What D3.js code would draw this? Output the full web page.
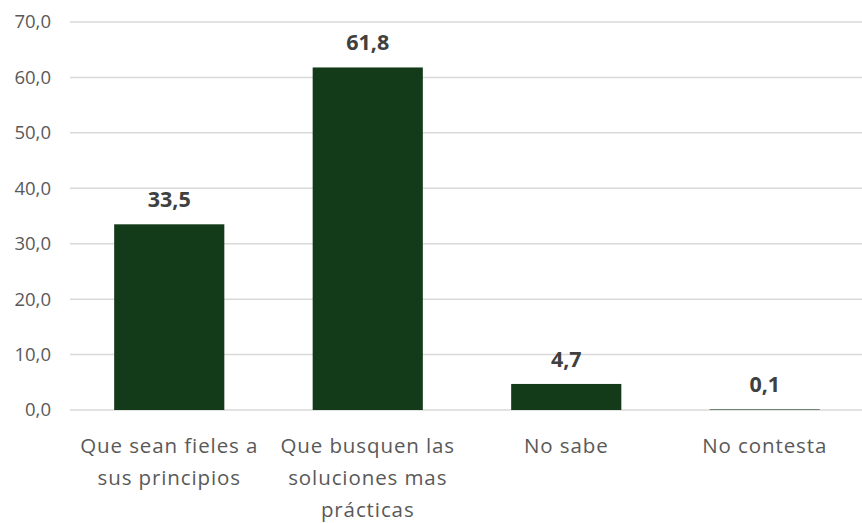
<!DOCTYPE html>
<html><head><meta charset="utf-8">
<script src="https://cdn.jsdelivr.net/npm/d3@7"></script>
<style>body{margin:0;background:#fff;} svg{display:block;}</style>
</head><body>
<svg id="chart" width="862" height="523"></svg>
<script>
const categories = ["Que sean fieles a sus principios", "Que busquen las soluciones mas prácticas", "No sabe", "No contesta"];
const categoryLines = [["Que sean fieles a", "sus principios"], ["Que busquen las", "soluciones mas", "prácticas"], ["No sabe"], ["No contesta"]];
const values = [33.5, 61.8, 4.7, 0.1];
const yTicks = [0, 10, 20, 30, 40, 50, 60, 70];

const svg = d3.select("#chart");
const fmt = v => d3.format(".1f")(v).replace(".", ",");
const font = "'Open Sans', 'Liberation Sans', sans-serif";

const x = d3.scaleBand().domain(categories).range([70, 864]).paddingInner(0.445).paddingOuter(0.2225);
const y = d3.scaleLinear().domain([0, 70]).range([410, 22]);

// gridlines
svg.append("g").selectAll("line").data(yTicks).join("line")
  .attr("x1", 70).attr("x2", 862)
  .attr("y1", d => y(d)).attr("y2", d => y(d))
  .attr("stroke", "#d9d9d9").attr("stroke-width", 1.5);

// y axis labels
const yAxis = d3.axisLeft(y).tickValues(yTicks).tickFormat(fmt).tickSize(0).tickPadding(0);
const yg = svg.append("g").attr("transform", "translate(51,0)").call(yAxis);
yg.select(".domain").remove();
yg.selectAll("text").attr("font-family", font).attr("font-size", 18.5).attr("fill", "#595959");

// bars
svg.append("g").selectAll("rect").data(values).join("rect")
  .attr("x", (d, i) => x(categories[i]))
  .attr("width", x.bandwidth())
  .attr("y", d => y(d))
  .attr("height", d => y(0) - y(d))
  .attr("fill", "#133a19");

// value labels
svg.append("g").selectAll("text").data(values).join("text")
  .attr("x", (d, i) => x(categories[i]) + x.bandwidth() / 2)
  .attr("y", d => y(d) - 17)
  .attr("text-anchor", "middle")
  .attr("font-family", font).attr("font-weight", "bold").attr("font-size", 21.5)
  .attr("fill", "#404040")
  .text(d => fmt(d));

// category labels
const cg = svg.append("g");
categoryLines.forEach((lines, i) => {
  const t = cg.append("text")
    .attr("x", x(categories[i]) + x.bandwidth() / 2)
    .attr("y", 453)
    .attr("text-anchor", "middle")
    .attr("font-family", font).attr("font-size", 20.5)
    .attr("letter-spacing", 0.9)
    .attr("fill", "#595959");
  lines.forEach((l, j) => {
    t.append("tspan").attr("x", x(categories[i]) + x.bandwidth() / 2)
      .attr("dy", j === 0 ? 0 : 32).text(l);
  });
});
</script>
</body></html>
